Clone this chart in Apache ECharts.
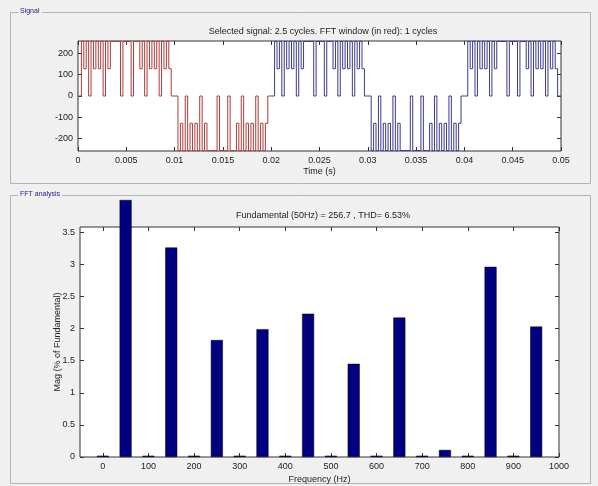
<!DOCTYPE html>
<html>
<head>
<meta charset="utf-8">
<script src="https://cdn.jsdelivr.net/npm/echarts@6/dist/echarts.min.js"></script>
<style>
  html, body { margin: 0; padding: 0; background: #f0f0f0; }
  #chart { width: 598px; height: 486px; }
</style>
</head>
<body>
<div id="chart"></div>
<script>
// one half-cycle of the PWM signal (ms from start of the half-cycle)
const halfCycleTimes = [0, 0.35, 0.6, 0.85, 1.1, 1.35, 1.6, 1.85, 2.1, 2.35, 2.6, 2.85, 3.1, 3.35,
  4.4, 4.65, 5.5, 5.75,
  6.4, 6.65, 6.9, 7.15, 7.4, 7.65, 7.9, 8.15, 8.4, 8.65, 8.9, 9.15, 9.4, 9.65]
// level index per segment: 0 -> 0 V, 1 -> half step, 2 -> full step
const halfCycleSteps = [0, 2, 1, 2, 0, 2, 1, 2, 1, 2, 0, 2, 1, 2,
  0, 2, 0, 2,
  1, 2, 0, 2, 1, 2, 1, 2, 0, 2, 1, 2, 1, 0]
const stepVolts = [0, 128, 256]
const halfCycleSigns = [1, -1, 1, -1, 1]
const fftWindowHalfCycles = 2
const halfCycleMs = 10

const timeTicks = [0, 0.005, 0.01, 0.015, 0.02, 0.025, 0.03, 0.035, 0.04, 0.045, 0.05]
const signalTicks = [-200, -100, 0, 100, 200]

// FFT bars
const harmonicFreqs = [0, 50, 100, 150, 200, 250, 300, 350, 400, 450, 500, 550, 600, 650, 700, 750, 800, 850, 900, 950]
const harmonicMags = [0.02, 4.0, 0.02, 3.26, 0.02, 1.82, 0.02, 1.99, 0.02, 2.23, 0.02, 1.45, 0.02, 2.17, 0.02, 0.11, 0.02, 2.96, 0.02, 2.03]
const freqTicks = [0, 100, 200, 300, 400, 500, 600, 700, 800, 900, 1000]
const magTicks = [0, 0.5, 1, 1.5, 2, 2.5, 3, 3.5]

const FONT = "'Liberation Sans', Arial, sans-serif"

// build square-wave points (each level held until the next switch)
const buildSignal = (from, to) => {
  const pts = []
  for (let h = from; h < to; h++) {
    halfCycleTimes.forEach((t, i) => {
      const next = i + 1 < halfCycleTimes.length ? halfCycleTimes[i + 1] : halfCycleMs
      const v = halfCycleSigns[h] * stepVolts[halfCycleSteps[i]]
      pts.push([(h * halfCycleMs + t) / 1000, v])
      pts.push([(h * halfCycleMs + next) / 1000, v])
    })
  }
  return pts
}

const labelStyle = { color: '#222', fontSize: 9, fontFamily: FONT }
const tickStyle = (values) => ({ inside: true, length: 4, customValues: values, lineStyle: { color: '#333' } })

const axisBase = (grid, min, max, ticks, position, showLabel) => ({
  type: 'value', gridIndex: grid, min, max, position,
  axisLine: { show: false, onZero: false },
  splitLine: { show: false },
  axisTick: tickStyle(ticks),
  axisLabel: { show: showLabel, customValues: ticks, margin: 5, formatter: (v) => String(v), ...labelStyle }
})

const chart = echarts.init(document.getElementById('chart'))
chart.setOption({
  animation: false,
  backgroundColor: '#f0f0f0',
  title: [
    {
      text: 'Selected signal: 2.5 cycles. FFT window (in red): 1 cycles',
      left: 318, top: 22, textAlign: 'center',
      textStyle: { fontSize: 9, fontWeight: 'normal', color: '#222', fontFamily: FONT }
    },
    {
      text: 'Fundamental (50Hz) = 256.7 , THD= 6.53%',
      left: 318, top: 206, textAlign: 'center',
      textStyle: { fontSize: 9, fontWeight: 'normal', color: '#222', fontFamily: FONT }
    }
  ],
  graphic: [
    { type: 'rect', shape: { x: 10.5, y: 12.5, width: 580, height: 171 }, style: { fill: null, stroke: '#b4b4b4', lineWidth: 1 }, z: -1 },
    { type: 'rect', shape: { x: 10.5, y: 195.5, width: 580, height: 288 }, style: { fill: null, stroke: '#b4b4b4', lineWidth: 1 }, z: -1 },
    { type: 'text', left: 18, top: 8, style: { text: 'Signal', fontSize: 7, fill: '#1c1c8c', backgroundColor: '#f0f0f0', padding: [0, 2], fontFamily: FONT } },
    { type: 'text', left: 18, top: 191, style: { text: 'FFT analysis', fontSize: 7, fill: '#1c1c8c', backgroundColor: '#f0f0f0', padding: [0, 2], fontFamily: FONT } }
  ],
  grid: [
    { left: 78, top: 41, width: 483, height: 110, show: true, backgroundColor: '#fff', borderColor: '#333', borderWidth: 1 },
    { left: 80, top: 227, width: 479, height: 230, show: true, backgroundColor: '#fff', borderColor: '#333', borderWidth: 1 }
  ],
  xAxis: [
    { ...axisBase(0, 0, 0.05, timeTicks, 'bottom', true), name: 'Time (s)', nameLocation: 'middle', nameGap: 16, nameMoveOverlap: false, nameTextStyle: labelStyle },
    axisBase(0, 0, 0.05, timeTicks, 'top', false),
    { ...axisBase(1, -50, 1000, freqTicks, 'bottom', true), name: 'Frequency (Hz)', nameLocation: 'middle', nameGap: 18, nameMoveOverlap: false, nameTextStyle: labelStyle },
    axisBase(1, -50, 1000, freqTicks, 'top', false)
  ],
  yAxis: [
    axisBase(0, -258, 258, signalTicks, 'left', true),
    axisBase(0, -258, 258, signalTicks, 'right', false),
    { ...axisBase(1, 0, 3.58, magTicks, 'left', true), name: 'Mag (% of Fundamental)', nameLocation: 'middle', nameGap: 18, nameMoveOverlap: false, nameTextStyle: labelStyle },
    axisBase(1, 0, 3.58, magTicks, 'right', false)
  ],
  series: [
    {
      type: 'line', xAxisIndex: 0, yAxisIndex: 0, symbol: 'none',
      data: buildSignal(0, fftWindowHalfCycles),
      lineStyle: { color: '#b03a3a', width: 1 }
    },
    {
      type: 'line', xAxisIndex: 0, yAxisIndex: 0, symbol: 'none',
      data: buildSignal(fftWindowHalfCycles, halfCycleSigns.length),
      lineStyle: { color: '#3a3a8c', width: 1 }
    },
    {
      type: 'bar', xAxisIndex: 2, yAxisIndex: 2, barWidth: 12, clip: false,
      data: harmonicFreqs.map((f, i) => [f, harmonicMags[i]]),
      itemStyle: { color: '#000080', borderColor: '#000', borderWidth: 0.5 }
    }
  ]
})
</script>
</body>
</html>
